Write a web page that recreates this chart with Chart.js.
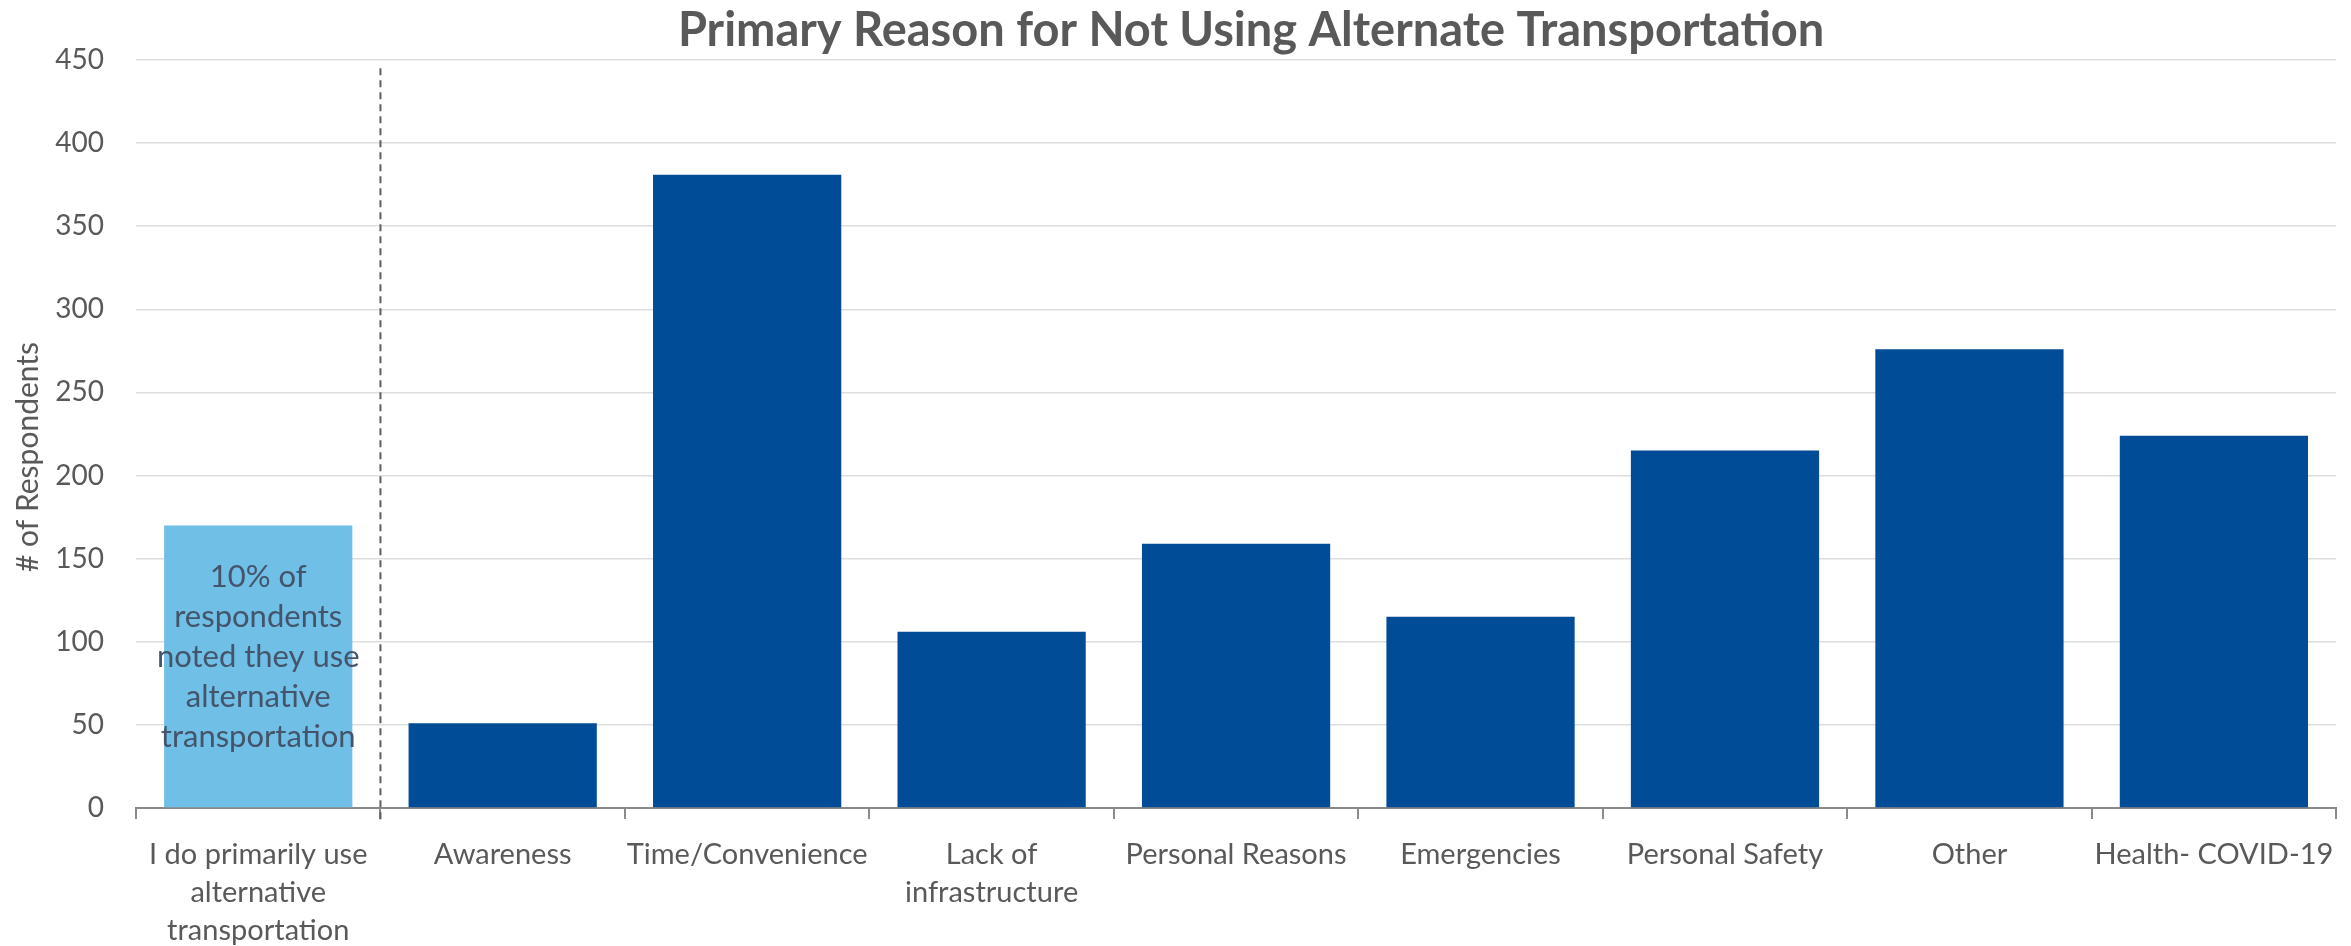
<!DOCTYPE html>
<html lang="en">
<head>
  <meta charset="UTF-8">
  <title>Primary Reason for Not Using Alternate Transportation</title>
  <script src="https://cdn.jsdelivr.net/npm/chart.js"></script>
  <style>
    body {
      margin: 0;
      background: #ffffff;
    }
    #wrap {
      width: 2351px;
      height: 946px;
    }
  </style>
</head>
<body>
  <div id="wrap">
    <canvas id="reasons" width="2351" height="946"></canvas>
  </div>

  <script>
    // data
    const categories = [
      ["I do primarily use", "alternative", "transportation"],
      "Awareness",
      "Time/Convenience",
      ["Lack of", "infrastructure"],
      "Personal Reasons",
      "Emergencies",
      "Personal Safety",
      "Other",
      "Health- COVID-19"
    ];
    const respondents = [170, 51, 381, 106, 159, 115, 215, 276, 224];
    const barColors = ["#6fbfe7", "#004c97", "#004c97", "#004c97", "#004c97", "#004c97", "#004c97", "#004c97", "#004c97"];
    const yTicks = [0, 50, 100, 150, 200, 250, 300, 350, 400, 450];
    const noteLines = ["10% of", "respondents", "noted they use", "alternative", "transportation"];
    const chartTitle = "Primary Reason for Not Using Alternate Transportation";
    const yTitle = "# of Respondents";

    const grey = "#595959";

    // title, y title, dashed divider after the first bar and the note inside it
    const extras = {
      id: "extras",
      afterDatasetsDraw(chart) {
        const ctx = chart.ctx;
        const x = chart.scales.x;
        const y = chart.scales.y;
        const area = chart.chartArea;

        ctx.save();
        ctx.fillStyle = grey;
        ctx.font = "bold 47px Lato";
        ctx.textAlign = "center";
        ctx.textBaseline = "alphabetic";
        ctx.fillText(chartTitle, (area.left + area.right) / 2 + 15, 46);

        ctx.font = "30px Lato";
        ctx.textBaseline = "middle";
        ctx.translate(28, (area.top + area.bottom) / 2 + 23);
        ctx.rotate(-Math.PI / 2);
        ctx.fillText(yTitle, 0, 0);
        ctx.restore();

        const xDiv = (x.getPixelForValue(0) + x.getPixelForValue(1)) / 2;
        ctx.save();
        ctx.strokeStyle = "#5f5f5f";
        ctx.lineWidth = 2;
        ctx.setLineDash([7, 5]);
        ctx.beginPath();
        ctx.moveTo(xDiv, y.getPixelForValue(445));
        ctx.lineTo(xDiv, y.bottom + 14);
        ctx.stroke();
        ctx.restore();

        const cx = x.getPixelForValue(0);
        const cy = y.getPixelForValue(respondents[0] / 2) - 10;
        const lh = 40;
        ctx.save();
        ctx.font = "31px Lato";
        ctx.fillStyle = "#44546a";
        ctx.textAlign = "center";
        ctx.textBaseline = "middle";
        noteLines.forEach((t, i) => {
          ctx.fillText(t, cx, cy + (i - (noteLines.length - 1) / 2) * lh);
        });
        ctx.restore();
      }
    };

    new Chart(document.getElementById("reasons"), {
      type: "bar",
      data: {
        labels: categories,
        datasets: [{
          data: respondents,
          backgroundColor: barColors,
          borderWidth: 0,
          categoryPercentage: 1,
          barPercentage: 0.77
        }]
      },
      options: {
        responsive: false,
        animation: false,
        layout: {
          padding: { left: 0, right: 12, top: 60, bottom: 0 }
        },
        plugins: {
          legend: { display: false },
          tooltip: { enabled: false },
          title: { display: false }
        },
        scales: {
          x: {
            afterFit(axis) {
              axis.height = 138;
            },
            grid: {
              display: true,
              drawOnChartArea: false,
              drawTicks: true,
              tickLength: 11,
              color: "#8a8a8a",
              lineWidth: 2
            },
            border: { display: true, color: "#8a8a8a", width: 2 },
            ticks: {
              color: grey,
              font: { family: "Lato", size: 29, lineHeight: 1.3 },
              padding: 17,
              maxRotation: 0,
              autoSkip: false
            }
          },
          y: {
            min: 0,
            max: 450,
            afterBuildTicks(axis) {
              axis.ticks = yTicks.map(v => ({ value: v }));
            },
            afterFit(axis) {
              axis.width = 136;
            },
            grid: {
              color: "#dedede",
              lineWidth: 1.5,
              drawTicks: false
            },
            border: { display: false },
            ticks: {
              color: grey,
              font: { family: "Lato", size: 28 },
              padding: 32
            }
          }
        }
      },
      plugins: [extras]
    });
  </script>
</body>
</html>
